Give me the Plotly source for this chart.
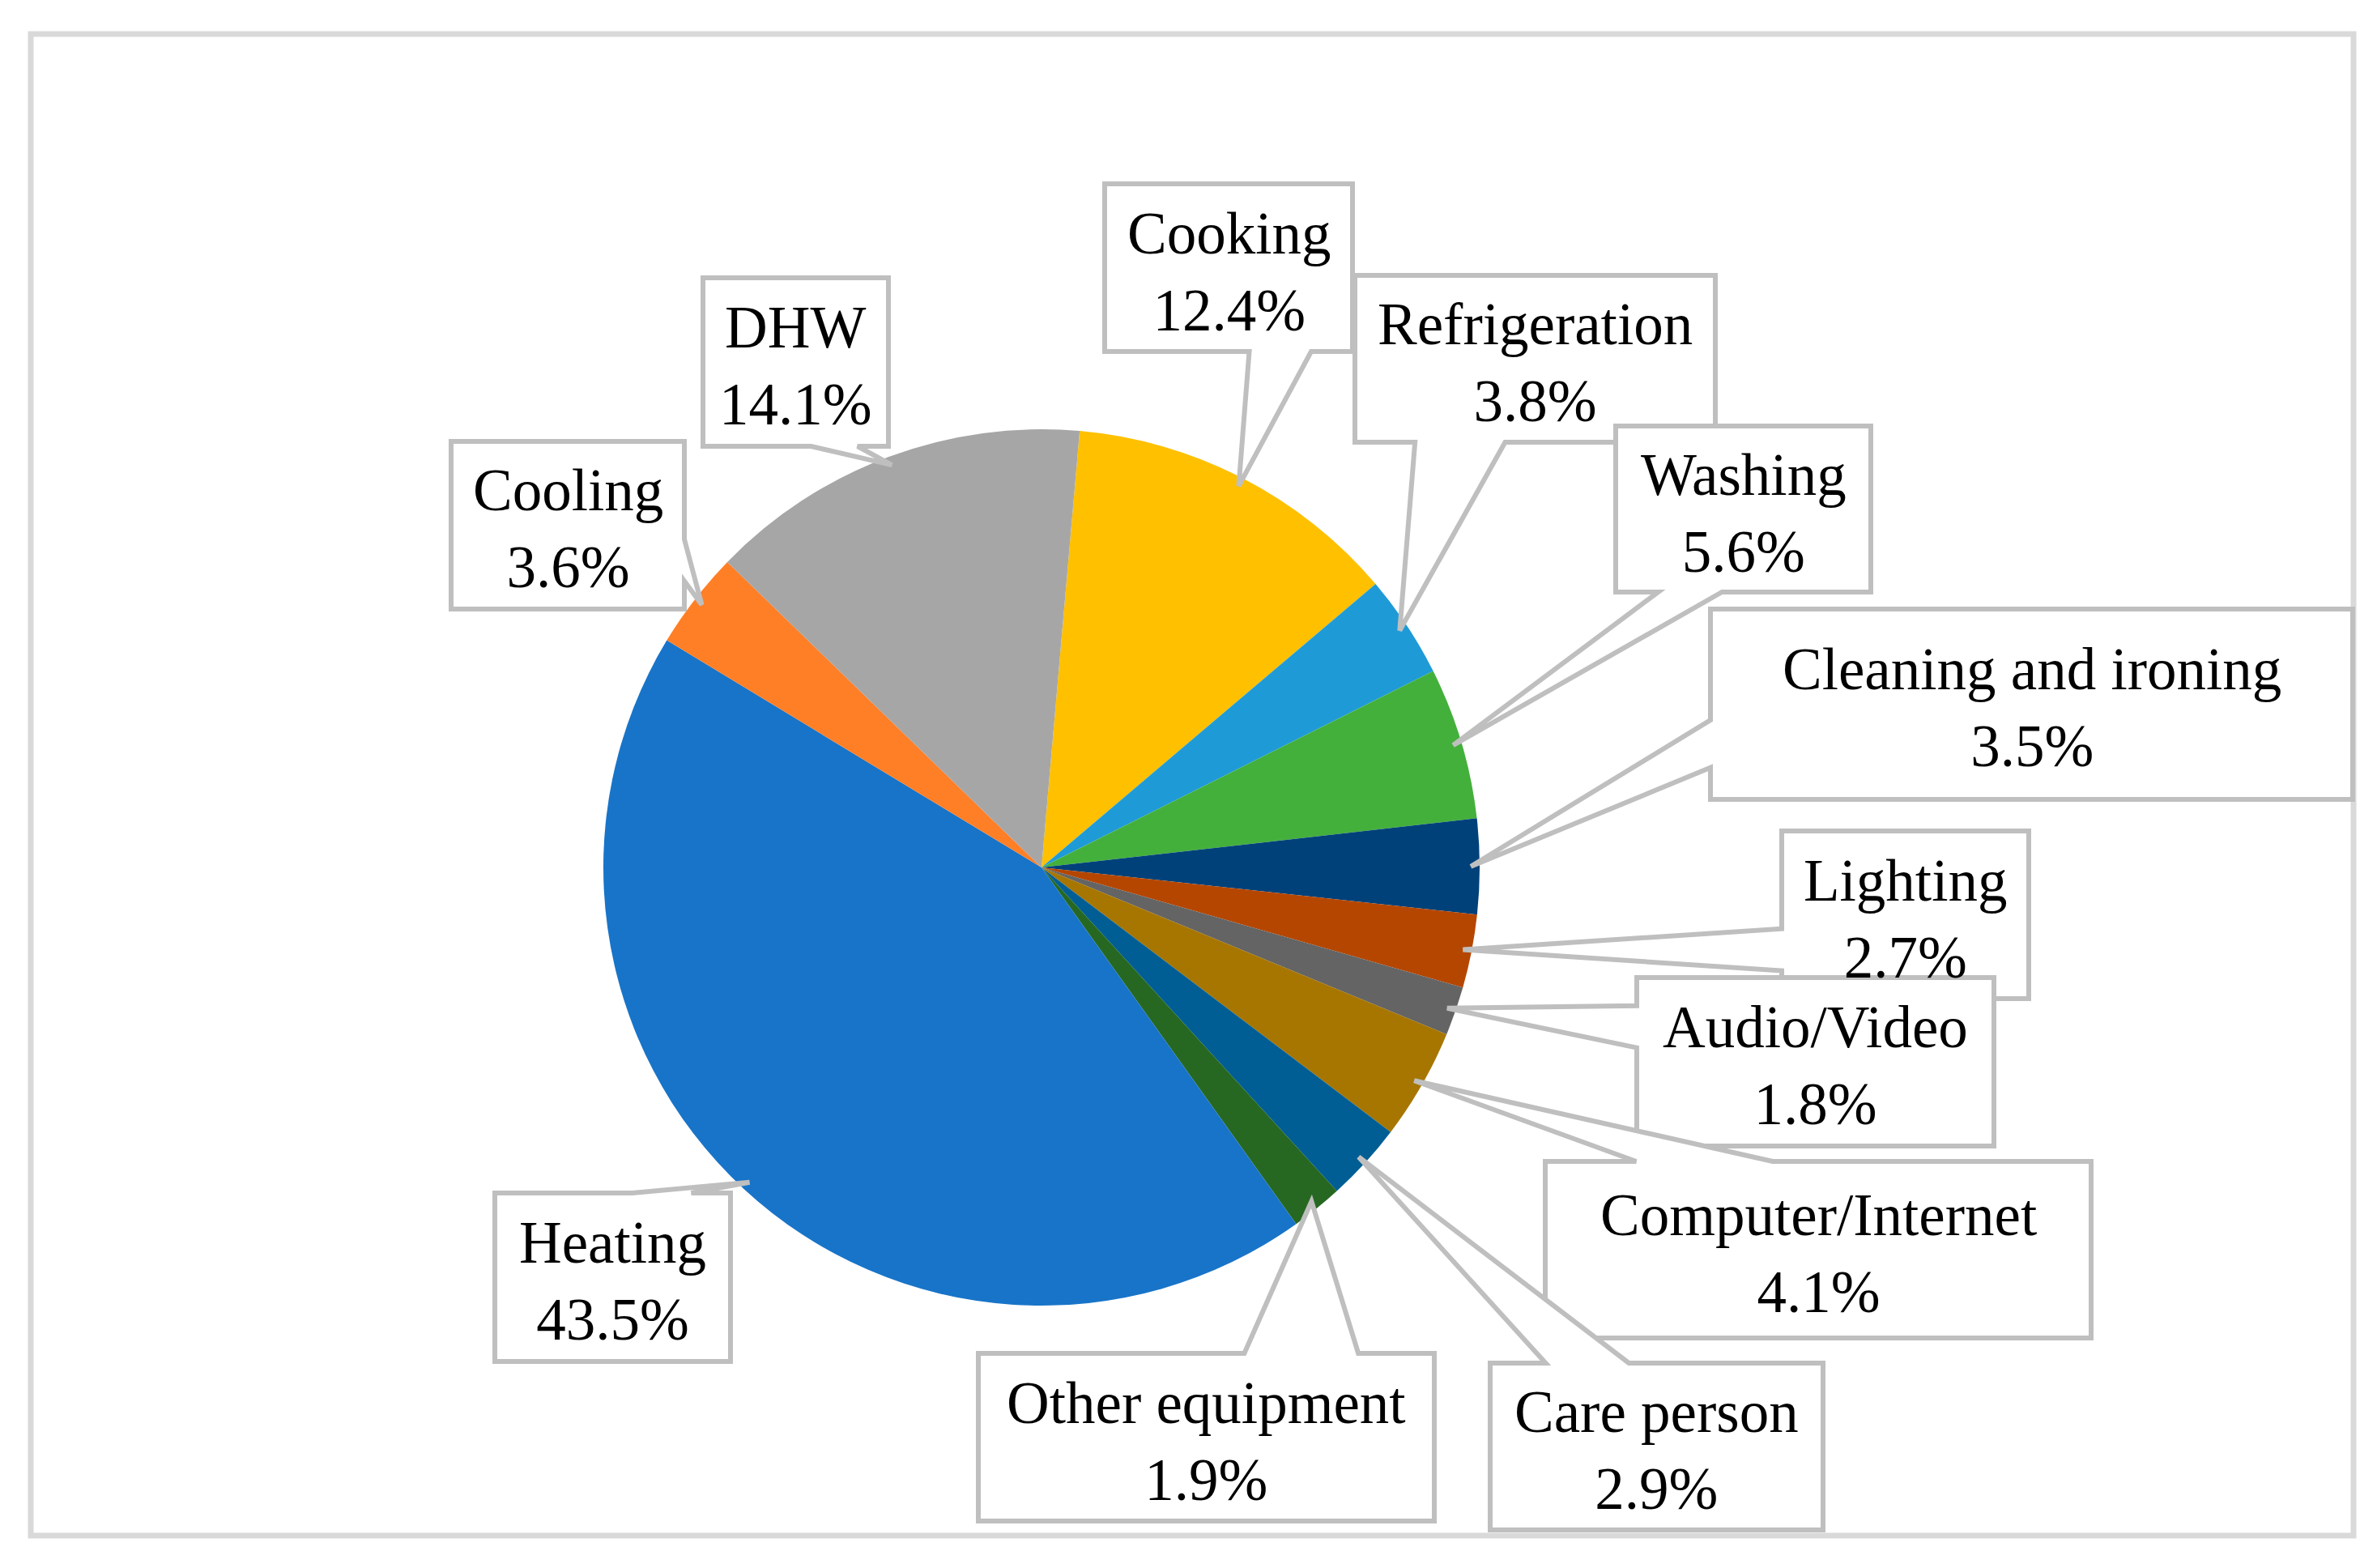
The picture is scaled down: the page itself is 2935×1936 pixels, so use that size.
import math
import plotly.graph_objects as go

# ---- data ----
labels = ["Cooking", "Refrigeration", "Washing", "Cleaning and ironing", "Lighting",
          "Audio/Video", "Computer/Internet", "Care person", "Other equipment",
          "Heating", "Cooling", "DHW"]
values = [12.4, 3.8, 5.6, 3.5, 2.7, 1.8, 4.1, 2.9, 1.9, 43.5, 3.6, 14.1]
colors = ["#FFC000", "#1E9BD7", "#44B03C", "#00417A", "#B54600", "#646464",
          "#A77600", "#005E94", "#266822", "#1874C8", "#FF7F27", "#A6A6A6"]

# ---- layout of callout boxes (pixels: x0, y0, x1, y1) and the side the pointer leaves from ----
boxes = [
    (1364, 227, 1670, 434),
    (1673, 340, 2118, 546),
    (1995, 526, 2310, 731),
    (2112, 752, 2905, 987),
    (2200, 1026, 2505, 1233),
    (2021, 1207, 2462, 1415),
    (1908, 1434, 2582, 1652),
    (1840, 1683, 2251, 1889),
    (1208, 1671, 1771, 1878),
    (611, 1473, 902, 1681),
    (557, 545, 845, 752),
    (868, 343, 1097, 551),
]
edges = ["bottom", "bottom", "bottom", "left", "left", "left",
         "top", "top", "top", "top", "right", "bottom"]

W, H = 2935, 1936
CX, CY, R = 1286, 1071, 541
ROT = 5
TIP = 0.98

FONT = "Liberation Serif"
FSIZE = 73
BORDER = "#BFBFBF"


def px(x):
    return x / W


def py(y):
    return 1 - y / H


def callout_path(box, tip, edge):
    x0, y0, x1, y1 = box
    w, h = x1 - x0, y1 - y0
    hc, vc = (x0 + x1) / 2, (y0 + y1) / 2
    tx, ty = tip
    if edge in ("top", "bottom"):
        g1, g2 = (7, 10) if tx > hc else (2, 5)
        a, b = x0 + w * g1 / 12, x0 + w * g2 / 12
    else:
        g1, g2 = (7, 10) if ty > vc else (2, 5)
        a, b = y0 + h * g1 / 12, y0 + h * g2 / 12
    pts = [(x0, y0)]
    if edge == "top":
        pts += [(a, y0), (tx, ty), (b, y0)]
    pts.append((x1, y0))
    if edge == "right":
        pts += [(x1, a), (tx, ty), (x1, b)]
    pts.append((x1, y1))
    if edge == "bottom":
        pts += [(b, y1), (tx, ty), (a, y1)]
    pts.append((x0, y1))
    if edge == "left":
        pts += [(x0, b), (tx, ty), (x0, a)]
    return "M " + " L ".join(f"{px(x):.6f},{py(y):.6f}" for x, y in pts) + " Z"


total = sum(values)

fig = go.Figure()
fig.add_trace(go.Pie(
    labels=labels, values=values, sort=False, direction="clockwise", rotation=ROT,
    marker=dict(colors=colors, line=dict(width=0)),
    textinfo="none", textposition="none", hoverinfo="skip", showlegend=False,
    domain=dict(x=[(CX - R) / W, (CX + R) / W], y=[1 - (CY + R) / H, 1 - (CY - R) / H]),
))

shapes = [dict(type="rect", xref="paper", yref="paper",
               x0=px(38), x1=px(2906), y0=py(42), y1=py(1896),
               line=dict(color="#D9D9D9", width=7), fillcolor="rgba(0,0,0,0)", layer="above")]
annotations = []
cum = 0.0
for lab, v, box, edge in zip(labels, values, boxes, edges):
    mid = math.radians(ROT + (cum + v / 2) / total * 360)
    cum += v
    tip = (CX + TIP * R * math.sin(mid), CY - TIP * R * math.cos(mid))
    shapes.append(dict(type="path", xref="paper", yref="paper",
                       path=callout_path(box, tip, edge),
                       line=dict(color=BORDER, width=6), fillcolor="white", layer="above"))
    annotations.append(dict(
        xref="paper", yref="paper",
        x=px((box[0] + box[2]) / 2), y=py((box[1] + box[3]) / 2),
        xanchor="center", yanchor="middle", showarrow=False, yshift=-5,
        text=f"{lab}<br>{v:.1f}%",
        font=dict(family=FONT, size=FSIZE, color="black"),
    ))

fig.update_layout(
    width=W, height=H, margin=dict(l=0, r=0, t=0, b=0),
    paper_bgcolor="white", plot_bgcolor="white",
    shapes=shapes, annotations=annotations, showlegend=False,
)

fig.write_html("out.html", config={"displayModeBar": False},
               post_script="document.body.style.margin='0';document.body.style.padding='0';")
